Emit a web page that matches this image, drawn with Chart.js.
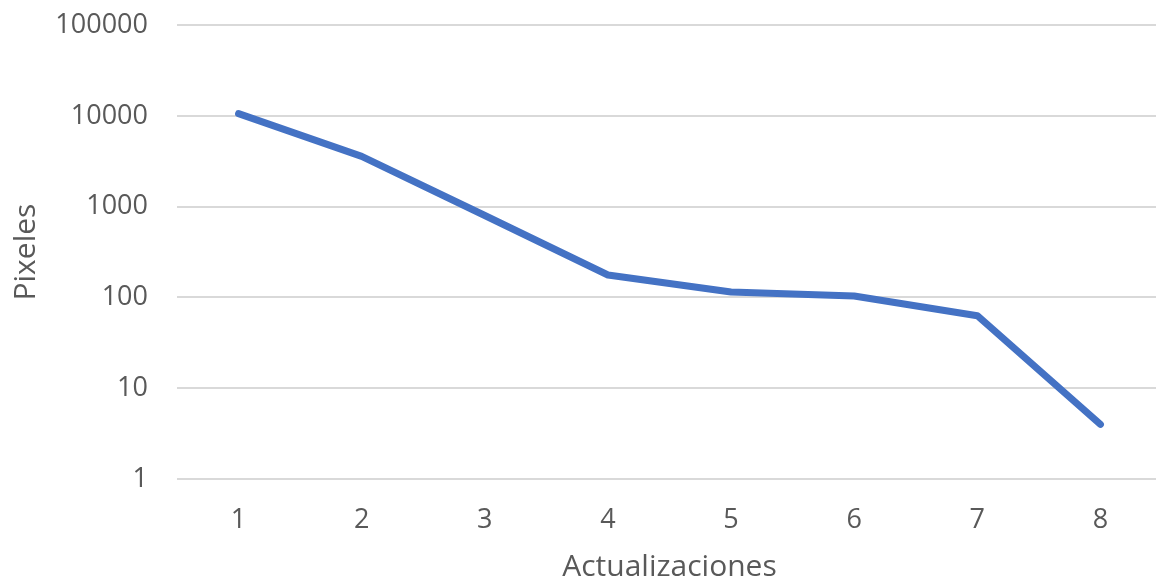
<!DOCTYPE html>
<html>
<head>
<meta charset="utf-8">
<script src="https://cdn.jsdelivr.net/npm/chart.js@4/dist/chart.umd.min.js"></script>
<style>
  html, body { margin: 0; padding: 0; background: #fff; overflow: hidden; }
  canvas { display: block; margin-top: -20px; }
</style>
</head>
<body>
<canvas id="chart" width="1162" height="605"></canvas>
<script>
const actualizaciones = ['1', '2', '3', '4', '5', '6', '7', '8'];
const pixeles = [10600, 3590, 800, 177, 115, 104, 63, 4];
const yTicks = [1, 10, 100, 1000, 10000, 100000];

const textColor = '#595959';
const font = { family: 'Open Sans', size: 27 };
const titleFont = { family: 'Open Sans', size: 30 };

const chart = new Chart(document.getElementById('chart'), {
  type: 'line',
  data: {
    labels: actualizaciones,
    datasets: [{
      data: pixeles,
      borderColor: '#4472C4',
      borderWidth: 7,
      borderCapStyle: 'round',
      borderJoinStyle: 'round',
      pointRadius: 0,
      tension: 0
    }]
  },
  options: {
    responsive: false,
    animation: false,
    layout: { padding: { top: 0, right: 0, bottom: 0, left: 8 } },
    plugins: { legend: { display: false }, tooltip: { enabled: false } },
    scales: {
      x: {
        offset: true,
        grid: { display: false, drawTicks: false },
        border: { display: false },
        ticks: { color: textColor, font: font, padding: 25, maxRotation: 0 },
        title: {
          display: true, text: 'Actualizaciones', color: textColor,
          font: titleFont, padding: { top: 16, bottom: 0 }
        },
        afterFit: (scale) => { scale.height = 106; }
      },
      y: {
        type: 'logarithmic',
        min: 1,
        max: 100000,
        afterBuildTicks: (scale) => { scale.ticks = yTicks.map(v => ({ value: v })); },
        grid: { color: '#d9d9d9', lineWidth: 2, drawTicks: false },
        border: { display: false },
        ticks: {
          color: textColor, font: font, padding: 29,
          callback: (v) => String(v)
        },
        title: {
          display: true, text: 'Pixeles', color: textColor,
          font: titleFont, padding: { top: 0, bottom: 0 }
        },
        afterFit: (scale) => { scale.width = 169; }
      }
    }
  }
});
</script>
</body>
</html>
